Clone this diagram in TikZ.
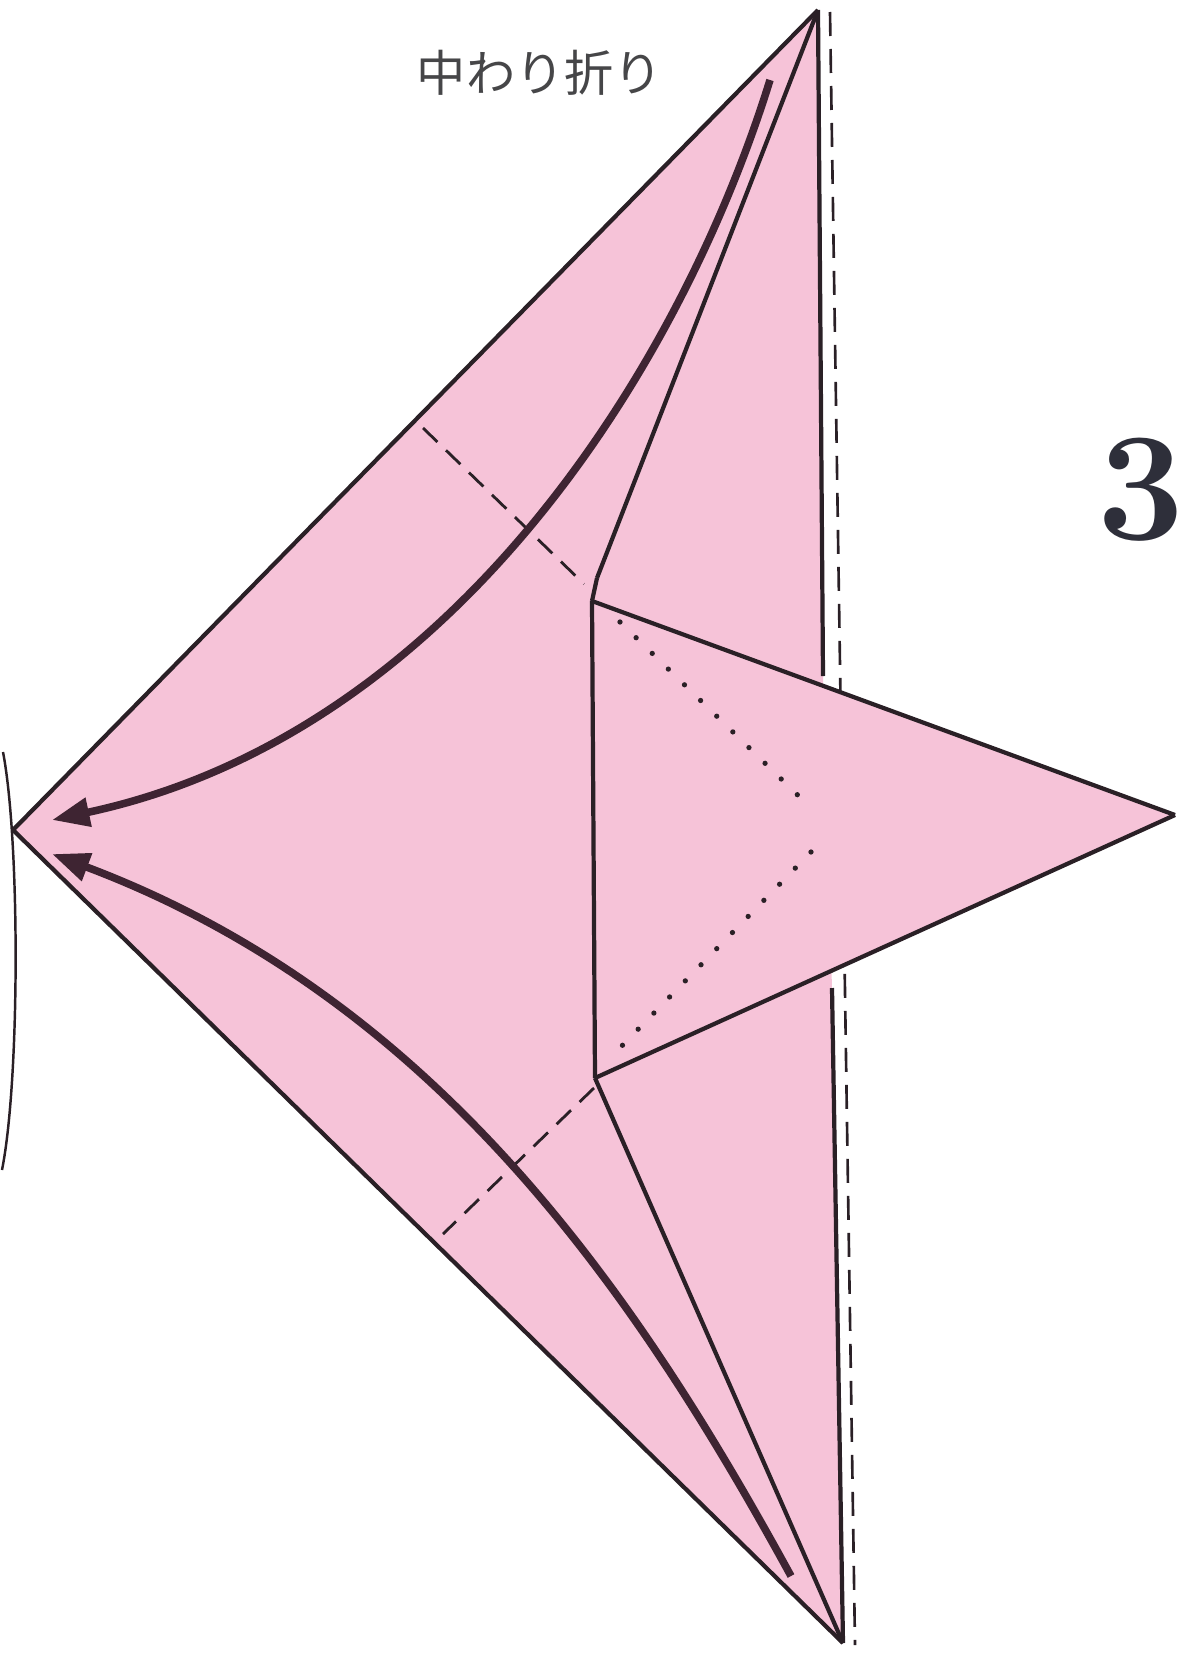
\documentclass[tikz,border=0pt]{standalone}
\usepackage{fontspec}
\newfontfamily\jpfont{Noto Sans CJK JP}
\usepackage{tikz}
\usetikzlibrary{arrows.meta}

\definecolor{paperpink}{RGB}{246,195,216}
\definecolor{inkline}{RGB}{42,32,38}
\definecolor{arrowink}{RGB}{62,36,50}
\definecolor{textgray}{RGB}{70,70,72}
\definecolor{stepnum}{RGB}{46,47,58}

\begin{document}
\begin{tikzpicture}[x=0.2mm, y=-0.2mm,
   edge_style/.style={draw=inkline, line width=2.4pt, line join=round},
   valley_style/.style={draw=inkline, line width=1.5pt, dash pattern=on 4.8mm off 2.6mm},
   crease_style/.style={draw=inkline, line width=1.6pt, dash pattern=on 4mm off 2.4mm},
   hidden_style/.style={draw=inkline, line width=3pt, line cap=round, dash pattern=on 0pt off 4.5mm},
   move_style/.style={draw=arrowink, line width=4.3pt, -{Triangle[length=7.5mm,width=5.6mm]}}]
	\useasboundingbox (0,0) rectangle (1203,1653);

	% corners of the folded paper
	\coordinate (top) at (818,10);
	\coordinate (left) at (13,830);
	\coordinate (bot) at (843,1643);
	\coordinate (tip) at (1175,815);
	\coordinate (kink) at (597,578);
	\coordinate (flaptop) at (592,601);
	\coordinate (flapbot) at (595,1078);
	\coordinate (edgeA) at (823,676);
	\coordinate (edgeB) at (832,988);
	\coordinate (foldtop) at (830,12);
	\coordinate (foldbot) at (855,1645);

	% paper, fold line behind the flap, then the flap
	\fill[paperpink] (top) -- (left) -- (bot) -- (edgeB) -- (edgeA) -- cycle;
	\draw[valley_style] (foldtop) -- (foldbot);
	\fill[paperpink] (flaptop) -- (tip) -- (flapbot) -- cycle;

	\foreach \from/\to in {
		top/left,
		left/bot,
		top/kink,
		kink/flaptop,
		flaptop/flapbot,
		flapbot/bot,
		flaptop/tip,
		tip/flapbot,
		top/edgeA,
		edgeB/bot}
	  \draw [edge_style] (\from) -- (\to);

	% creases for the inside reverse fold
	\coordinate (crA1) at (423,428);
	\coordinate (crA2) at (584,584);
	\coordinate (crB1) at (594,1088);
	\coordinate (crB2) at (443,1234);
	\draw [crease_style] (crA1) -- (crA2);
	\draw [crease_style] (crB1) -- (crB2);

	% hidden edges under the flap
	\coordinate (dotA1) at (620,622);
	\coordinate (dotA2) at (812,809);
	\coordinate (dotB1) at (811,852);
	\coordinate (dotB2) at (612,1056);
	\draw [hidden_style] (dotA1) -- (dotA2);
	\draw [hidden_style] (dotB1) -- (dotB2);

	% movement arrows
	\coordinate (upstart) at (770,80);
	\coordinate (upend) at (52,820);
	\coordinate (lowstart) at (791,1576);
	\coordinate (lowend) at (52,854);
	\draw [move_style] (upstart) .. controls (680,370) and (450,735) .. (upend);
	\draw [move_style] (lowstart) .. controls (640,1300) and (440,1000) .. (lowend);

	% arc at the left margin
	\coordinate (arcA) at (3,752);
	\coordinate (arcB) at (2,1170);
	\draw [inkline, line width=1.4pt] (arcA) .. controls (20,840) and (20,1080) .. (arcB);

	\node [text=textgray, font=\jpfont\fontsize{28}{30}\selectfont] (caption) at (540,73) {中わり折り};
	\node [text=stepnum, font=\fontsize{88}{90}\selectfont\bfseries] (stepno) at (1141,490) {3};
\end{tikzpicture}
\end{document}
